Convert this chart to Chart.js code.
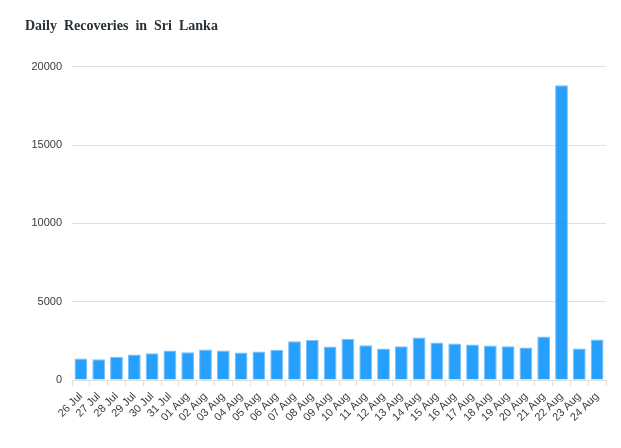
<!DOCTYPE html>
<html>
<head>
<meta charset="utf-8">
<script src="https://cdn.jsdelivr.net/npm/chart.js@4"></script>
<style>
  html, body { margin: 0; padding: 0; background: #fff; }
  #wrap { width: 621px; height: 448px; }
</style>
</head>
<body>
<div id="wrap"><canvas id="recoveries"></canvas></div>
<script>
const days = ['26 Jul', '27 Jul', '28 Jul', '29 Jul', '30 Jul', '31 Jul', '01 Aug', '02 Aug', '03 Aug', '04 Aug',
  '05 Aug', '06 Aug', '07 Aug', '08 Aug', '09 Aug', '10 Aug', '11 Aug', '12 Aug', '13 Aug', '14 Aug',
  '15 Aug', '16 Aug', '17 Aug', '18 Aug', '19 Aug', '20 Aug', '21 Aug', '22 Aug', '23 Aug', '24 Aug'];
const recovered = [1370, 1325, 1478, 1624, 1707, 1879, 1771, 1943, 1879, 1752,
  1815, 1924, 2472, 2561, 2134, 2624, 2217, 2007, 2153, 2707,
  2389, 2325, 2261, 2198, 2153, 2070, 2771, 18820, 2007, 2580];
const yTicks = [0, 5000, 10000, 15000, 20000];

const ctx = document.getElementById('recoveries').getContext('2d');
const recoveriesChart = new Chart(ctx, {
  type: 'bar',
  data: {
    labels: days,
    datasets: [{
      label: 'Recoveries',
      data: recovered,
      backgroundColor: 'rgba(0,143,251,0.85)',
      borderColor: 'rgba(110,185,250,0.9)',
      borderWidth: 1,
      categoryPercentage: 0.72,
      barPercentage: 1
    }]
  },
  options: {
    responsive: true,
    maintainAspectRatio: false,
    animation: false,
    layout: { padding: { left: 25, right: 15, top: 18, bottom: 0 } },
    plugins: {
      legend: { display: false },
      tooltip: { enabled: false },
      title: {
        display: true,
        text: 'Daily  Recoveries  in  Sri  Lanka',
        align: 'start',
        color: '#263238',
        font: { family: 'Liberation Serif', size: 14, weight: 'bold' },
        padding: { top: 0, bottom: 32 }
      }
    },
    scales: {
      x: {
        grid: { display: true, drawOnChartArea: false, color: '#e0e0e0', tickLength: 6, offset: true },
        border: { display: true, color: '#e0e0e0' },
        ticks: {
          autoSkip: false,
          maxRotation: 45,
          minRotation: 45,
          color: '#373d3f',
          padding: 4,
          font: { family: 'Liberation Sans', size: 11 }
        },
        afterFit: (scale) => { scale.height = 68; }
      },
      y: {
        min: 0,
        max: 20000,
        afterBuildTicks: (scale) => { scale.ticks = yTicks.map(v => ({ value: v })); },
        grid: { color: '#e0e0e0', drawTicks: false },
        border: { display: false },
        ticks: {
          color: '#373d3f',
          padding: 10,
          font: { family: 'Liberation Sans', size: 11 },
          callback: (v) => String(v)
        },
        afterFit: (scale) => { scale.width = 47; }
      }
    }
  }
});
</script>
</body>
</html>
